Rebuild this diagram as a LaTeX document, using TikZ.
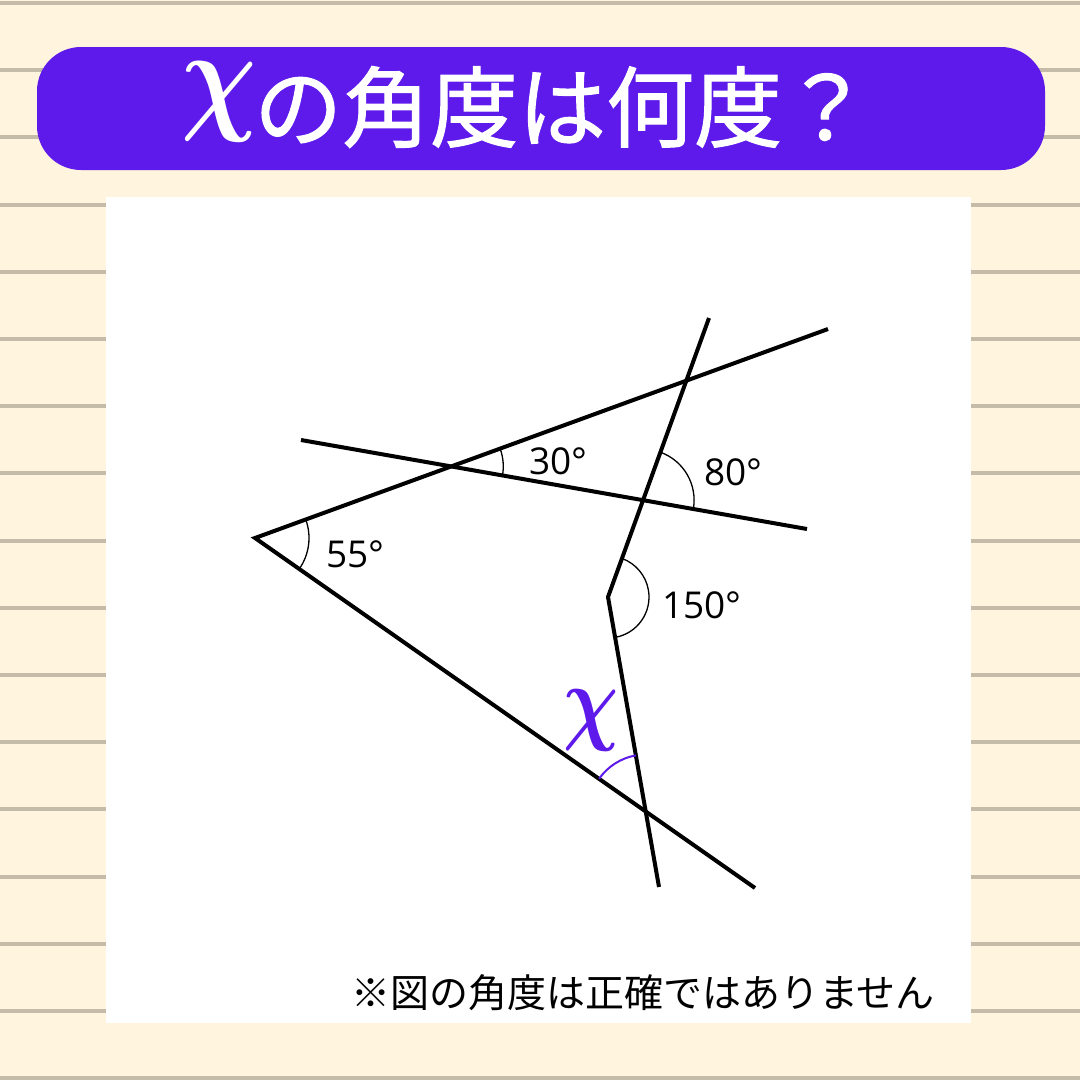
\documentclass[tikz,border=0pt]{standalone}
\usepackage{graphicx}
\usepackage{fontspec}
\setmainfont{Open Sans}
\newfontfamily\jpfont{Noto Sans CJK JP}
\newfontfamily\jptitlefont{Noto Sans CJK JP}[FakeBold=1.2]
\definecolor{banner}{RGB}{94,26,235}
\definecolor{paper}{RGB}{255,245,222}
\definecolor{ruling}{RGB}{196,187,168}
\newcommand\bigchi[2]{\scalebox{#1}[#2]{\mathversion{bold}$\chi$}}
\tikzset{
  geoline/.style={line width=4pt},
  angarc/.style={line width=1.3pt},
  degree/.style={anchor=base west,inner sep=0pt}
}
\newcommand\anglemark[5][]{
  \draw[angarc,#1] (#2) ++(#3:#5) arc[start angle=#3, end angle=#4, radius=#5];
}

\begin{document}
\begin{tikzpicture}[x=1pt, y=-1pt]
\useasboundingbox (0,0) rectangle (1080,1080);
\fill[paper] (0,0) rectangle (1080,1080);
\foreach \i in {0,...,16}
{
  \draw[ruling,line width=4pt] (0,3+67.2*\i) -- (1080,3+67.2*\i);
}
\fill[banner,rounded corners=44pt] (37,47) rectangle (1045,170);
\node[text=white,inner sep=0pt] (titlechi) at (219,102) {\bigchi{10.5}{12.5}};
\node[text=white,anchor=west,inner sep=0pt] (title) at (254,107) {\jptitlefont\fontsize{88}{88}\selectfont の角度は何度？};
\fill[white] (106,197) rectangle (971,1023);

\coordinate (O) at (255,538);
\coordinate (A) at (828,329);
\coordinate (B) at (755,888);
\coordinate (C1) at (301,440);
\coordinate (C2) at (807,529);
\coordinate (D) at (709,318);
\coordinate (W) at (608,597);
\coordinate (E) at (659,887);
\coordinate (X1) at (intersection of O--A and C1--C2);
\coordinate (X2) at (intersection of D--W and C1--C2);
\coordinate (X3) at (intersection of O--B and W--E);

\draw[geoline] (A) -- (O) -- (B);
\draw[geoline] (C1) -- (C2);
\draw[geoline] (D) -- (W) -- (E);

\anglemark{O}{35}{-20}{54}
\anglemark{X1}{10}{-20}{52}
\anglemark{X2}{10}{-70}{51}
\anglemark{W}{80}{-70}{41}
\anglemark[banner,line width=2pt]{X3}{-100}{-145}{57}

\node[degree] (a55) at (326,567) {\fontsize{37}{37}\selectfont 55°};
\node[degree] (a30) at (529,474) {\fontsize{37}{37}\selectfont 30°};
\node[degree] (a80) at (704,485) {\fontsize{37}{37}\selectfont 80°};
\node[degree] (a150) at (662,618) {\fontsize{37}{37}\selectfont 150°};
\node[text=banner,inner sep=0pt] (chi) at (591,720) {\bigchi{7.7}{9.6}};

\node[inner sep=0pt] (note) at (643,993) {\jpfont\fontsize{39}{39}\selectfont ※図の角度は正確ではありません};
\end{tikzpicture}
\end{document}
